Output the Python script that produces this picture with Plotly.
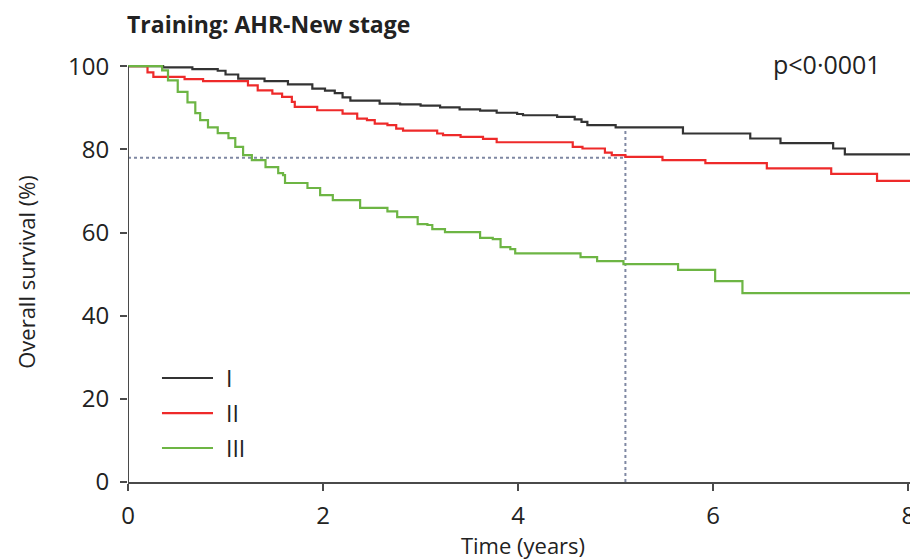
import plotly.graph_objects as go

# ---- data ----
stage_names = ["I", "II", "III"]

t_I = [0, 0.36, 0.66, 0.92, 1.0, 1.13, 1.4, 1.64, 1.89, 2.02, 2.12, 2.2, 2.28, 2.58, 2.79, 3.0,
       3.2, 3.4, 3.61, 3.78, 3.99, 4.05, 4.4, 4.58, 4.65, 4.71, 5.0, 5.69, 6.38, 6.69, 7.23, 7.35, 8.1]
s_I = [100, 99.7, 99.3, 98.9, 98.0, 97.0, 96.4, 95.6, 94.6, 94.1, 93.5, 92.5, 91.7, 91.0, 90.8, 90.5,
       90.1, 89.6, 89.3, 88.8, 88.5, 88.2, 87.8, 87.2, 86.6, 85.8, 85.3, 83.8, 82.6, 81.5, 80.2, 78.8, 78.8]

t_II = [0, 0.2, 0.26, 0.58, 0.77, 1.23, 1.33, 1.48, 1.58, 1.68, 1.71, 1.94, 2.2, 2.35, 2.45, 2.53,
        2.66, 2.75, 2.82, 3.17, 3.23, 3.41, 3.64, 3.78, 4.56, 4.66, 4.89, 4.96, 5.1, 5.48, 5.92,
        6.55, 7.21, 7.68, 8.1]
s_II = [100, 98.5, 97.4, 96.9, 96.4, 95.4, 94.2, 93.4, 92.6, 91.4, 90.2, 89.4, 88.6, 87.4, 87.0, 86.2,
        85.8, 85.0, 84.5, 83.8, 83.4, 83.0, 82.5, 81.7, 80.6, 80.2, 79.2, 78.6, 78.2, 77.4, 76.7,
        75.4, 74.1, 72.4, 72.4]

t_III = [0, 0.28, 0.35, 0.41, 0.51, 0.61, 0.69, 0.74, 0.82, 0.92, 1.03, 1.10, 1.18, 1.27, 1.41, 1.54,
         1.59, 1.61, 1.84, 1.97, 2.10, 2.38, 2.66, 2.76, 2.97, 3.07, 3.12, 3.25, 3.61, 3.74, 3.82,
         3.92, 3.97, 4.64, 4.81, 5.08, 5.64, 6.02, 6.30, 8.1]
s_III = [100, 100, 99.0, 96.6, 93.8, 91.3, 88.7, 87.0, 85.3, 83.9, 82.7, 80.6, 78.6, 77.4, 75.7, 74.3,
         73.8, 71.9, 70.7, 69.0, 67.8, 65.9, 65.1, 63.7, 62.0, 61.8, 60.8, 60.1, 58.7, 58.4, 56.5,
         56.0, 55.0, 54.1, 53.1, 52.4, 51.0, 48.3, 45.4, 45.4]

x_ticks = [0, 2, 4, 6, 8]
y_ticks = [0, 20, 40, 60, 80, 100]

ref_time = 5.1        # 5-year reference line
ref_surv_II = 78.0    # horizontal reference level
ref_surv_I = 85.3     # top of vertical reference line

colors = ["#333333", "#ee2a2a", "#6db544"]
series = [(t_I, s_I), (t_II, s_II), (t_III, s_III)]

FONT = "Open Sans"
TXT = "#222222"
AX = "#4a4a4a"

# the page body has an 8px margin, so the figure is sized to end at the window edge
W, H = 910, 552
ML, MT, MB = 120, 54, 78

fig = go.Figure()
for name, (tt, ss), c in zip(stage_names, series, colors):
    fig.add_trace(go.Scatter(x=tt, y=ss, mode="lines", line=dict(color=c, width=2.2, shape="hv"),
                             name=name, showlegend=False))

dot_col = "#7f88a3"
fig.add_shape(type="line", x0=0, x1=ref_time, y0=ref_surv_II, y1=ref_surv_II, xref="x", yref="y",
              line=dict(color=dot_col, width=2, dash="dot"), layer="below")
fig.add_shape(type="line", x0=ref_time, x1=ref_time, y0=0, y1=ref_surv_I, xref="x", yref="y",
              line=dict(color=dot_col, width=2, dash="dot"), layer="below")
# y axis line from 0 to 100
fig.add_shape(type="line", x0=0, x1=0, y0=0, y1=100, xref="x", yref="y",
              line=dict(color=AX, width=2))

# manual legend (keys + labels)
leg_y = [0.2476, 0.164, 0.081]
for name, c, yy in zip(stage_names, colors, leg_y):
    fig.add_shape(type="line", xref="paper", yref="paper", x0=0.043, x1=0.1076, y0=yy, y1=yy,
                  line=dict(color=c, width=2.2))
    fig.add_annotation(xref="paper", yref="paper", x=0.121, y=yy, text=name, showarrow=False,
                       xanchor="left", yanchor="middle", font=dict(family=FONT, size=23, color=TXT))

fig.add_annotation(x=0.956, y=100.5, xref="paper", yref="y", text="p<0·0001", showarrow=False,
                   xanchor="right", yanchor="middle", font=dict(family=FONT, size=25, color=TXT))

fig.update_layout(
    width=W, height=H,
    margin=dict(l=ML, r=0, t=MT, b=MB, autoexpand=False),
    paper_bgcolor="white", plot_bgcolor="white",
    title=dict(text="<b>Training: AHR-New stage</b>", x=119/W, xanchor="left", xref="container",
               y=1-17/H, yanchor="middle", yref="container",
               font=dict(family=FONT, size=23, color=TXT)),
    font=dict(family=FONT, size=22, color=TXT),
    showlegend=False,
)
fig.update_xaxes(range=[0, 8.1], tickvals=x_ticks, ticks="outside", ticklen=7, tickwidth=2,
                 tickcolor=AX, showline=True, linecolor=AX, linewidth=2,
                 showgrid=False, zeroline=False, automargin=False, ticklabelstandoff=4,
                 tickfont=dict(family=FONT, size=24, color=TXT),
                 title=dict(text="Time (years)", standoff=6, font=dict(family=FONT, size=22, color=TXT)))
fig.update_yaxes(range=[0, 101], tickvals=y_ticks, ticks="outside", ticklen=7, tickwidth=2,
                 tickcolor=AX, showline=False, showgrid=False, zeroline=False, automargin=False,
                 ticklabelstandoff=6,
                 tickfont=dict(family=FONT, size=24, color=TXT),
                 title=dict(text="Overall survival (%)", standoff=26, font=dict(family=FONT, size=22, color=TXT)))

fig.write_html("out.html")
